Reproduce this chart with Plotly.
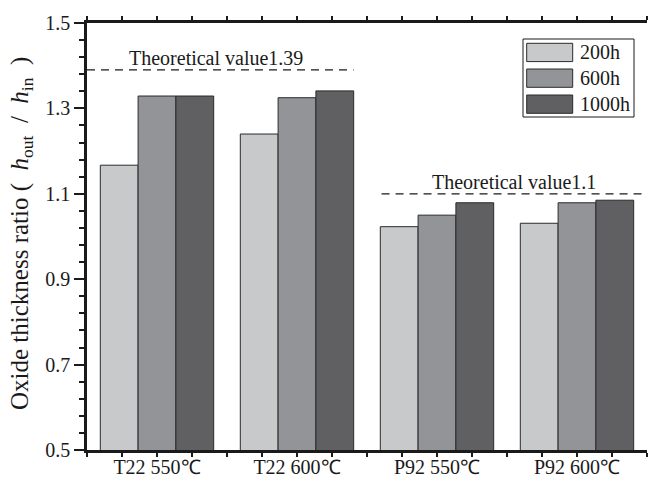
import plotly.graph_objects as go

# Data
categories = ["T22 550℃", "T22 600℃", "P92 550℃", "P92 600℃"]
series_names = ["200h", "600h", "1000h"]
values_200h = [1.167, 1.240, 1.023, 1.031]
values_600h = [1.329, 1.325, 1.050, 1.079]
values_1000h = [1.329, 1.341, 1.079, 1.085]
series_colors = ["#c8c9cb", "#939497", "#606063"]
theoretical_t22 = 1.39
theoretical_p92 = 1.1
y_ticks = [0.5, 0.7, 0.9, 1.1, 1.3, 1.5]
y_title = ("Oxide thickness ratio (&nbsp; <i>h</i><sub>out</sub>&nbsp; /&nbsp; "
           "<i>h</i><sub>in</sub>&nbsp; )")

FONT = "Liberation Serif"
INK = "#1a1a1a"

W, H = 648, 478
ML, MR, MT, MB = 87, 1, 23, 28
PW, PH = W - ML - MR, H - MT - MB

def px_x(p):
    return (p - ML) / PW

def px_y(p):
    return (H - MB - p) / PH

x_pos = list(range(len(categories)))
all_values = [values_200h, values_600h, values_1000h]

fig = go.Figure()
for name, vals, col in zip(series_names, all_values, series_colors):
    fig.add_trace(go.Bar(
        x=x_pos, y=vals, name=name,
        marker=dict(color=col, line=dict(color="#2a2a2a", width=1)),
        width=0.27, showlegend=False,
    ))

# Theoretical reference lines
fig.add_shape(type="line", xref="x", yref="y", x0=-0.5, x1=1.404,
              y0=theoretical_t22, y1=theoretical_t22,
              line=dict(color=INK, width=1.3, dash="8px,6px"))
fig.add_shape(type="line", xref="x", yref="y", x0=1.604, x1=3.5,
              y0=theoretical_p92, y1=theoretical_p92,
              line=dict(color=INK, width=1.3, dash="8px,6px"))
fig.add_annotation(x=0.423, y=theoretical_t22, xref="x", yref="y",
                   text=f"Theoretical value{theoretical_t22}", showarrow=False,
                   yanchor="bottom", yshift=-1, font=dict(family=FONT, size=20, color=INK))
fig.add_annotation(x=2.549, y=theoretical_p92, xref="x", yref="y",
                   text=f"Theoretical value{theoretical_p92}", showarrow=False,
                   yanchor="bottom", yshift=-1, font=dict(family=FONT, size=20, color=INK))

# Y-axis title
fig.add_annotation(x=px_x(21), y=px_y(234), xref="paper", yref="paper",
                   text=y_title, textangle=-90, showarrow=False,
                   xanchor="center", yanchor="middle",
                   font=dict(family=FONT, size=25, color=INK))

# Legend box drawn in paper coordinates
fig.add_shape(type="rect", xref="paper", yref="paper",
              x0=px_x(523), x1=px_x(634), y0=px_y(117), y1=px_y(39),
              line=dict(color=INK, width=1), fillcolor="white", layer="above")
row_tops = [43.3, 69.0, 95.0]
for name, col, top in zip(series_names, series_colors, row_tops):
    fig.add_shape(type="rect", xref="paper", yref="paper",
                  x0=px_x(526.7), x1=px_x(572.7), y0=px_y(top + 18.3), y1=px_y(top),
                  line=dict(color="#2a2a2a", width=1), fillcolor=col, layer="above")
    fig.add_annotation(x=px_x(578), y=px_y(top + 9.2), xref="paper", yref="paper",
                       text=name, showarrow=False, xanchor="left", yanchor="middle",
                       font=dict(family=FONT, size=20, color=INK))

fig.update_layout(
    width=W, height=H,
    margin=dict(l=ML, r=MR, t=MT, b=MB, pad=0, autoexpand=False),
    paper_bgcolor="white", plot_bgcolor="white",
    barmode="group", bargap=0.19, bargroupgap=0,
    font=dict(family=FONT, size=20, color=INK),
    xaxis=dict(
        range=[-0.5, 3.5], tickvals=x_pos, ticktext=categories,
        ticks="outside", ticklen=4, tickwidth=1.5, tickcolor=INK,
        minor=dict(dtick=0.25, tick0=-0.5, ticks="outside", ticklen=4, tickwidth=1.5, tickcolor=INK),
        showline=True, linewidth=2.5, linecolor=INK, mirror="allticks",
        showgrid=False, zeroline=False, automargin=False, ticklabelstandoff=-7,
        tickfont=dict(family=FONT, size=20, color=INK),
    ),
    yaxis=dict(
        range=[0.5, 1.5], tickvals=y_ticks, ticktext=[f"{v:.1f}" for v in y_ticks],
        ticks="outside", ticklen=10, tickwidth=2, tickcolor=INK,
        minor=dict(dtick=0.04, tick0=0.5, ticks="outside", ticklen=5, tickwidth=2, tickcolor=INK),
        showline=True, linewidth=2.5, linecolor=INK,
        showgrid=False, zeroline=False, automargin=False,
        tickfont=dict(family=FONT, size=20, color=INK),
    ),
    yaxis2=dict(
        overlaying="y", side="right", range=[0.5, 1.5], tickvals=y_ticks,
        showticklabels=False, ticks="inside", ticklen=10, tickwidth=2, tickcolor=INK,
        minor=dict(dtick=0.04, tick0=0.5, ticks="inside", ticklen=5, tickwidth=2, tickcolor=INK),
        showline=True, linewidth=2.5, linecolor=INK, showgrid=False, zeroline=False,
        automargin=False,
    ),
)

fig.write_html("out.html")
